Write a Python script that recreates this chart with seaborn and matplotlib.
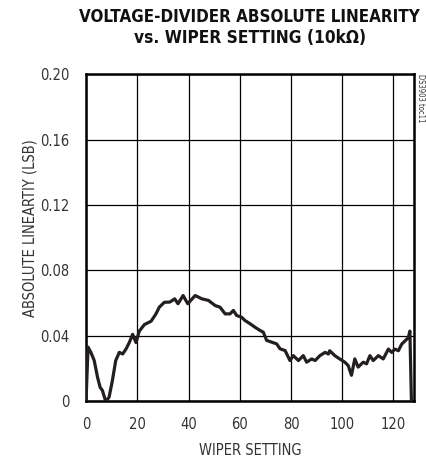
import pandas as pd
import matplotlib
matplotlib.use("Agg")
import matplotlib.pyplot as plt
import seaborn as sns

# wiper position vs absolute linearity (LSB)
wiper = [0, 0.8, 1.9, 3.2, 4.5, 5.5, 6.4, 7.7, 9.0, 10.3, 11.6, 13.0, 14.3,
         15.6, 16.9, 18.2, 19.5, 20.8, 22.8, 25.4, 27.3, 28.6, 30.6, 32.7,
         34.6, 35.9, 37.9, 39.7, 42.6, 45.2, 47.8, 50.4, 52.3, 54.3, 56.2,
         57.5, 58.8, 60.7, 62.0, 64.0, 65.9, 67.9, 69.2, 70.5, 72.5, 74.4,
         75.7, 77.7, 79.6, 80.9, 82.9, 84.8, 86.1, 88.1, 89.4, 91.3, 93.3,
         94.6, 95.1, 97.1, 99.0, 101.0, 102.3, 103.6, 104.9, 106.2, 108.2,
         109.5, 110.8, 112.1, 114.1, 116.0, 118.0, 119.3, 120.6, 121.9,
         123.2, 124.5, 125.8, 126.4, 127]
linearity = [0, 0.0332, 0.030, 0.025, 0.0148, 0.0087, 0.0067, 0.0, 0.0026,
             0.0128, 0.025, 0.030, 0.029, 0.032, 0.036, 0.041, 0.036, 0.043,
             0.047, 0.049, 0.0535, 0.0576, 0.0606, 0.0607, 0.0627, 0.0597,
             0.0647, 0.0597, 0.0647, 0.0627, 0.0617, 0.0586, 0.0576, 0.0535,
             0.0535, 0.0556, 0.0525, 0.0515, 0.0495, 0.0475, 0.0454, 0.0434,
             0.0423, 0.0373, 0.0362, 0.0352, 0.0322, 0.0311, 0.025, 0.028,
             0.025, 0.028, 0.024, 0.026, 0.025, 0.028, 0.030, 0.029, 0.031,
             0.028, 0.026, 0.024, 0.022, 0.016, 0.026, 0.021, 0.024, 0.023,
             0.028, 0.025, 0.028, 0.026, 0.032, 0.030, 0.032, 0.031, 0.035,
             0.037, 0.039, 0.043, 0.0]

x_ticks = [0, 20, 40, 60, 80, 100, 120]
y_ticks = [0, 0.04, 0.08, 0.12, 0.16, 0.20]
y_tick_labels = ["0", "0.04", "0.08", "0.12", "0.16", "0.20"]

df = pd.DataFrame({"wiper": wiper, "linearity": linearity})

sns.set_style("white")
plt.rcParams["font.family"] = ["DejaVu Sans"]
plt.rcParams["font.stretch"] = "condensed"

fig = plt.figure(figsize=(4.26, 4.62), dpi=100)
ax = fig.add_axes([0.2019, 0.131, 0.7699, 0.7088])

sns.lineplot(x="wiper", y="linearity", data=df, ax=ax, color="#231f20",
             linewidth=2.3, zorder=3)

ax.set_xlim(0, 128)
ax.set_ylim(0, 0.20)
ax.set_xticks(x_ticks)
ax.set_yticks(y_ticks)
ax.set_yticklabels(y_tick_labels)
ax.grid(True, color="black", linewidth=0.9)
for s in ax.spines.values():
    s.set_color("black")
    s.set_linewidth(1.8)
ax.tick_params(length=0, labelsize=10.5, colors="#333333")
ax.tick_params(axis="x", pad=11)
ax.tick_params(axis="y", pad=12)

ax.set_xlabel("WIPER SETTING", fontsize=10.5, color="#333333", labelpad=8)
ax.set_ylabel("ABSOLUTE LINEARTIY (LSB)", fontsize=10.5, color="#333333",
              labelpad=4)
ax.yaxis.set_label_coords(-0.148, 0.53)

fig.text(0.585, 0.964, "VOLTAGE-DIVIDER ABSOLUTE LINEARITY", ha="center",
         va="center", fontsize=12.2, fontweight="bold", color="#111111")
fig.text(0.587, 0.918, "vs. WIPER SETTING (10k\u03a9)", ha="center",
         va="center", fontsize=12.4, fontweight="bold", color="#111111")
fig.text(0.988, 0.84, "DS3903 toc11", rotation=-90, ha="center", va="top",
         fontsize=5.5, color="#333333")

fig.savefig("out.png", dpi=100)
